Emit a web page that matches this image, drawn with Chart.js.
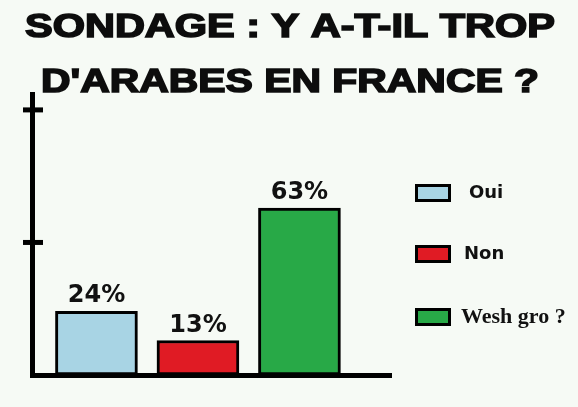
<!DOCTYPE html>
<html lang="fr">
<head>
<meta charset="UTF-8">
<title>Sondage</title>
<script src="https://cdn.jsdelivr.net/npm/chart.js"></script>
<style>
    body {
        margin: 0;
        background-color: #f6faf5;
    }
    .container {
        width: 578px;
        height: 407px;
        position: relative;
    }
</style>
</head>
<body>
<div class="container">
    <canvas id="sondageChart"></canvas>
</div>
<script>
    const titre = ['SONDAGE : Y A-T-IL TROP', "D'ARABES EN FRANCE ?"];
    const categories = ['Oui', 'Non', 'Wesh gro ?'];
    const pourcentages = [24, 13, 63];
    const couleurs = ['#a8d4e4', '#e01b24', '#28a947'];

    // big title across the whole picture, stretched to the width of the original
    const grandTitre = {
        id: 'grandTitre',
        afterDraw(chart) {
            const ctx = chart.ctx;
            const largeurs = [530, 498];
            const lignesY = [37, 92];
            ctx.save();
            ctx.font = 'bold 33px "Liberation Sans"';
            ctx.fillStyle = '#0d0d0d';
            ctx.strokeStyle = '#0d0d0d';
            ctx.lineWidth = 1.6;
            ctx.textAlign = 'center';
            ctx.textBaseline = 'alphabetic';
            titre.forEach((ligne, i) => {
                const w = ctx.measureText(ligne).width;
                ctx.save();
                ctx.translate(290, lignesY[i]);
                ctx.scale(largeurs[i] / w, 1);
                ctx.fillText(ligne, 0, 0);
                ctx.strokeText(ligne, 0, 0);
                ctx.restore();
            });
            ctx.restore();
        }
    };

    // the little crosses on the vertical axis
    const croixAxe = {
        id: 'croixAxe',
        afterDraw(chart) {
            const { ctx, chartArea, scales: { y } } = chart;
            ctx.save();
            ctx.strokeStyle = '#000';
            ctx.lineWidth = 5;
            y.ticks.forEach(t => {
                if (t.value <= 0 || t.value % 50 !== 0) return;
                const py = y.getPixelForValue(t.value);
                ctx.beginPath();
                ctx.moveTo(chartArea.left - 9, py);
                ctx.lineTo(chartArea.left + 11, py);
                ctx.stroke();
            });
            ctx.restore();
        }
    };

    // percentages above the bars
    const etiquettes = {
        id: 'etiquettes',
        afterDatasetsDraw(chart) {
            const ctx = chart.ctx;
            const meta = chart.getDatasetMeta(0);
            ctx.save();
            ctx.font = 'bold 24px "DejaVu Sans"';
            ctx.fillStyle = '#111';
            ctx.textAlign = 'center';
            ctx.textBaseline = 'alphabetic';
            meta.data.forEach((bar, i) => {
                ctx.fillText(pourcentages[i] + '%', bar.x, bar.y - 9);
            });
            ctx.restore();
        }
    };

    // legend on the right, last entry is in a serif font
    const legende = {
        id: 'legende',
        afterDraw(chart) {
            const ctx = chart.ctx;
            const posY = [193, 254, 317];
            const posX = [469, 464, 461];
            const polices = ['bold 18px "DejaVu Sans"', 'bold 18px "DejaVu Sans"', 'bold 22px "Liberation Serif"'];
            ctx.save();
            categories.forEach((c, i) => {
                ctx.fillStyle = couleurs[i];
                ctx.fillRect(416.5, posY[i] - 7.5, 33, 15);
                ctx.strokeStyle = '#000';
                ctx.lineWidth = 3;
                ctx.strokeRect(416.5, posY[i] - 7.5, 33, 15);
                ctx.fillStyle = '#111';
                ctx.font = polices[i];
                ctx.textAlign = 'left';
                ctx.textBaseline = 'middle';
                ctx.fillText(c, posX[i], posY[i]);
            });
            ctx.restore();
        }
    };

    const ctx = document.getElementById('sondageChart').getContext('2d');
    new Chart(ctx, {
        type: 'bar',
        data: {
            labels: categories,
            datasets: [{
                data: pourcentages.map((v, i) => ({ x: i + 1, y: v })),
                backgroundColor: couleurs,
                borderColor: '#000',
                borderWidth: 3,
                borderSkipped: false,
                barThickness: 82
            }]
        },
        options: {
            responsive: true,
            maintainAspectRatio: false,
            animation: false,
            layout: {
                padding: { left: 32, right: 187, top: 94, bottom: 32 }
            },
            plugins: {
                legend: { display: false },
                tooltip: { enabled: false },
                title: { display: false }
            },
            scales: {
                x: {
                    type: 'linear',
                    offset: false,
                    bounds: 'data',
                    min: 0.365,
                    max: 3.902,
                    grid: { display: false, drawTicks: false, offset: false },
                    ticks: { display: false },
                    border: { display: true, color: '#000', width: 5 }
                },
                y: {
                    min: 0,
                    max: 106,
                    grid: { display: false, drawTicks: false },
                    ticks: { display: false, stepSize: 50 },
                    border: { display: true, color: '#000', width: 5 }
                }
            }
        },
        plugins: [grandTitre, croixAxe, etiquettes, legende]
    });
</script>
</body>
</html>
